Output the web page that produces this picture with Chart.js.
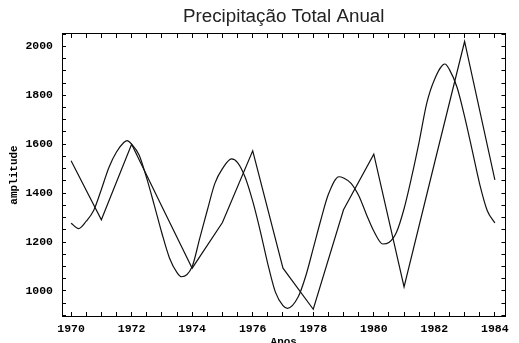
<!DOCTYPE html>
<html>
<head>
<meta charset="utf-8">
<script src="https://cdn.jsdelivr.net/npm/chart.js@4"></script>
<style>
  body { margin: 0; background: #fff; }
</style>
</head>
<body>
<canvas id="chuva" width="519" height="343"></canvas>
<script>
// totais anuais (linha quebrada)
const years = [1970, 1971, 1972, 1973, 1974, 1975, 1976, 1977, 1978, 1979, 1980, 1981, 1982, 1983, 1984];
const totals = [1532, 1291, 1600, 1345, 1093, 1280, 1573, 1093, 925, 1332, 1559, 1017, 1520, 2020, 1454];

// curva ajustada (suave)
const fitYears = [1970, 1970.25, 1970.5, 1970.75, 1971, 1971.25, 1971.5, 1971.75, 1971.85, 1972,
  1972.25, 1972.5, 1972.75, 1973, 1973.25, 1973.5, 1973.65, 1974, 1974.25, 1974.5,
  1974.75, 1975, 1975.3, 1975.5, 1975.75, 1976, 1976.25, 1976.5, 1976.75, 1977,
  1977.15, 1977.5, 1977.75, 1978, 1978.25, 1978.5, 1978.85, 1979, 1979.25, 1979.5,
  1979.75, 1980, 1980.3, 1980.5, 1980.75, 1981, 1981.25, 1981.5, 1981.75, 1982,
  1982.35, 1982.5, 1982.75, 1983, 1983.25, 1983.5, 1983.75, 1984];
const fitValues = [1277, 1255, 1285, 1330, 1415, 1505, 1568, 1608, 1615, 1600,
  1555, 1460, 1350, 1236, 1135, 1075, 1058, 1100, 1215, 1330,
  1440, 1500, 1540, 1525, 1465, 1367, 1245, 1110, 995, 940,
  929, 975, 1060, 1174, 1290, 1395, 1467, 1462, 1440, 1390,
  1315, 1245, 1192, 1198, 1240, 1336, 1466, 1611, 1768, 1863,
  1928, 1905, 1833, 1713, 1576, 1436, 1328, 1278];

const xTickLabels = ["1970", "1972", "1974", "1976", "1978", "1980", "1982", "1984"];
const yTickLabels = ["1000", "1200", "1400", "1600", "1800", "2000"];

const tickFont = { family: "Liberation Mono", size: 11.5, weight: "bold" };
const ink = "#000";

const frameGrid = { drawOnChartArea: false, tickLength: -4, color: ink, tickColor: ink, lineWidth: 1 };
const frameBorder = { color: ink, width: 1 };

new Chart(document.getElementById("chuva"), {
  type: "line",
  data: {
    datasets: [
      {
        label: "Total anual",
        data: years.map((x, i) => ({ x: x, y: totals[i] })),
        borderColor: "#111",
        borderWidth: 1.2,
        pointRadius: 0,
        tension: 0,
      },
      {
        label: "Ajuste",
        data: fitYears.map((x, i) => ({ x: x, y: fitValues[i] })),
        borderColor: "#111",
        borderWidth: 1.2,
        pointRadius: 0,
        cubicInterpolationMode: "monotone",
      },
    ],
  },
  options: {
    responsive: false,
    animation: false,
    layout: { padding: { left: 0, right: 2, top: 0, bottom: 0 } },
    plugins: {
      legend: { display: false },
      tooltip: { enabled: false },
      title: {
        display: true,
        text: "Precipitação Total Anual",
        fullSize: false,
        color: "#222",
        font: { family: "Liberation Sans", size: 18.8, weight: "normal" },
        padding: { top: 5.5, bottom: 5.9 },
      },
    },
    scales: {
      x: {
        type: "linear",
        position: "bottom",
        min: 1969.7,
        max: 1984.35,
        ticks: {
          stepSize: 0.5,
          includeBounds: false,
          autoSkip: false,
          maxRotation: 0,
          padding: 10,
          color: ink,
          font: tickFont,
          callback: (v) => (xTickLabels.includes(String(v)) ? String(v) : ""),
        },
        grid: frameGrid,
        border: frameBorder,
        title: {
          display: true,
          text: "Anos",
          color: ink,
          font: { family: "Liberation Mono", size: 11, weight: "bold" },
          padding: { top: 0, bottom: -6 },
        },
        afterFit: (s) => { s.height = 27; },
      },
      x2: {
        type: "linear",
        axis: "x",
        position: "top",
        min: 1969.7,
        max: 1984.35,
        ticks: { stepSize: 0.5, includeBounds: false, autoSkip: false, display: false },
        grid: frameGrid,
        border: frameBorder,
        afterFit: (s) => { s.height = 0; },
      },
      y: {
        type: "linear",
        position: "left",
        min: 897.5,
        max: 2050.8,
        ticks: {
          stepSize: 50,
          includeBounds: false,
          autoSkip: false,
          padding: 13,
          color: ink,
          font: tickFont,
          callback: (v) => (yTickLabels.includes(String(v)) ? String(v) : ""),
        },
        grid: frameGrid,
        border: frameBorder,
        title: {
          display: true,
          text: "amplitude",
          color: ink,
          font: { family: "Liberation Mono", size: 11, weight: "bold" },
          padding: { top: 8, bottom: 0 },
        },
        afterFit: (s) => { s.width = 62; },
      },
      y2: {
        type: "linear",
        axis: "y",
        position: "right",
        min: 897.5,
        max: 2050.8,
        ticks: { stepSize: 50, includeBounds: false, autoSkip: false, display: false },
        grid: frameGrid,
        border: frameBorder,
        afterFit: (s) => { s.width = 0; },
      },
    },
  },
});
</script>
</body>
</html>
